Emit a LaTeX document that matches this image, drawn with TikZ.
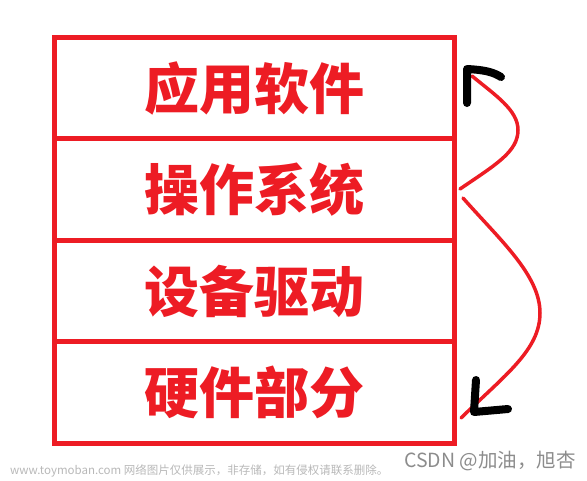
\documentclass[tikz,border=0pt]{standalone}
\usepackage{fontspec}
\setmainfont{Noto Sans CJK SC}
\definecolor{pred}{RGB}{237,28,36}
\begin{document}
\begin{tikzpicture}[x=1pt,y=-1pt,
  layer/.style={draw=pred, line width=5pt, minimum width=400pt, minimum height=101.4pt,
    inner sep=0pt, outer sep=0pt, anchor=north west,
    font=\fontsize{55}{55}\selectfont\bfseries, text=pred},
  curve/.style={draw=pred, line width=3.5pt, line cap=round},
  tick/.style={draw=black, line width=8pt, line cap=round, line join=round},
  wmark/.style={inner sep=0pt, text=black!28, font=\fontsize{11.5}{11.5}\selectfont},
  credit/.style={inner sep=0pt, text=black!45, font=\fontsize{19.5}{19.5}\selectfont}]
\useasboundingbox (0,0) rectangle (587,480);
\node[layer] (l1) at (54,37.5) {应用软件};
\node[layer] (l2) at (l1.south west) {操作系统};
\node[layer] (l3) at (l2.south west) {设备驱动};
\node[layer] (l4) at (l3.south west) {硬件部分};
% upward curve
\coordinate (u0) at (460,189);
\coordinate (u1) at (518,130);
\coordinate (u2) at (472,76);
\draw[curve] (u0) .. controls (495,165) and (518,152) .. (u1)
  .. controls (518,110) and (495,95) .. (u2);
% downward curve
\coordinate (d0) at (463,198);
\coordinate (d1) at (540,313);
\coordinate (d2) at (461,418);
\draw[curve] (d0) .. controls (500,240) and (540,275) .. (d1)
  .. controls (540,350) and (505,375) .. (d2);
% black arrow marks
\coordinate (a1) at (467,103);
\coordinate (a2) at (467,69);
\coordinate (a3) at (501,77);
\draw[tick] (a1) -- (a2) .. controls (485,70) and (493,72) .. (a3);
\coordinate (b1) at (476,380);
\coordinate (b2) at (474,412);
\coordinate (b3) at (508,409);
\draw[tick] (b1) -- (b2) -- (b3);
% watermark texts
\node[wmark, anchor=west] (wm) at (10,471) {www.toymoban.com 网络图片仅供展示，非存储，如有侵权请联系删除。};
\node[credit, anchor=east] (cr) at (576,461) {CSDN @加油，旭杏};
\end{tikzpicture}
\end{document}
